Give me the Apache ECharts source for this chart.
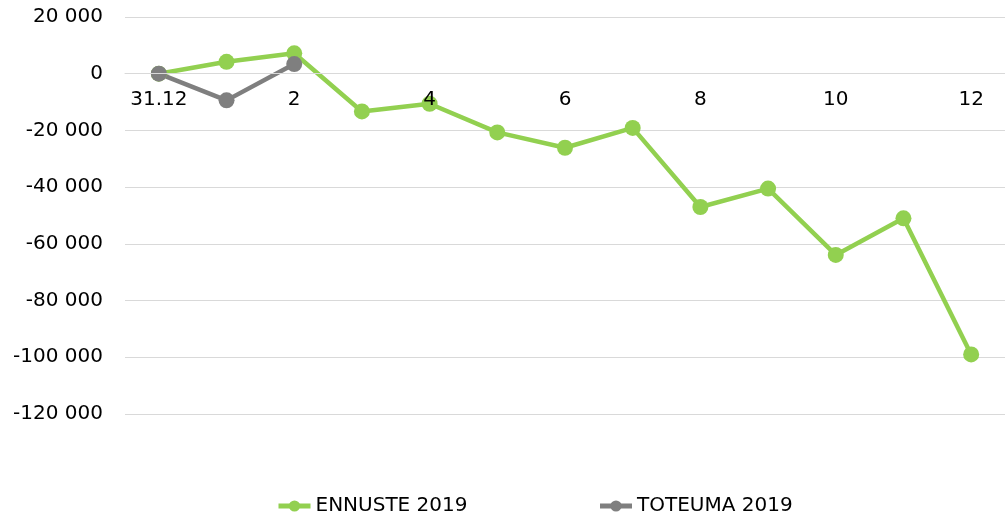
<!DOCTYPE html>
<html>
<head>
<meta charset="utf-8">
<script src="https://cdn.jsdelivr.net/npm/echarts@6/dist/echarts.min.js"></script>
<style>
html, body { margin: 0; padding: 0; background: #fff; }
#main { width: 1005px; height: 514px; }
</style>
</head>
<body>
<div id="main"></div>
<script>
var months = ['31.12', '1', '2', '3', '4', '5', '6', '7', '8', '9', '10', '11', '12']
var ennuste = [0, 4200, 7200, -13300, -10600, -20700, -26100, -19100, -47000, -40500, -63900, -51000, -99000]
var toteuma = [0, -9400, 3400]

var FONT = 'DejaVu Sans'

function spaced(v) {
  // 20000 -> "20 000"
  return String(v).replace(/\B(?=(\d{3})+(?!\d))/g, ' ')
}

var myChart = echarts.init(document.getElementById('main'))

var option = {
  animation: false,
  textStyle: { fontFamily: FONT },
  grid: {
    left: 125,
    top: 17,
    width: 888,
    height: 397
  },
  legend: {
    left: 271,
    top: 491,
    itemGap: 130,
    itemWidth: 32,
    itemHeight: 14,
    lineStyle: { width: 5 },
    textStyle: { fontSize: 20, color: '#000', fontFamily: FONT },
    data: ['ENNUSTE 2019', 'TOTEUMA 2019']
  },
  xAxis: {
    type: 'category',
    data: months,
    boundaryGap: true,
    position: 'bottom',
    // put the axis on the zero line (grid bottom is -120 000, 6 steps down)
    offset: -341,
    z: 5, // labels drawn over the lines like in the original
    axisLine: { onZero: false, lineStyle: { color: '#d9d9d9', width: 1 } },
    axisTick: { show: false },
    axisLabel: {
      interval: 1,
      margin: 17,
      fontSize: 20,
      color: '#000',
      fontFamily: FONT
    },
    splitLine: { show: false }
  },
  yAxis: {
    type: 'value',
    min: -120000,
    max: 20000,
    interval: 20000,
    axisLine: { show: false },
    axisTick: { show: false },
    axisLabel: {
      margin: 22,
      fontSize: 20,
      color: '#000',
      fontFamily: FONT,
      formatter: spaced
    },
    splitLine: { lineStyle: { color: '#d9d9d9', width: 1 } }
  },
  series: [
    {
      name: 'ENNUSTE 2019',
      type: 'line',
      data: ennuste,
      symbol: 'circle',
      symbolSize: 16,
      lineStyle: { color: '#92d050', width: 4.5 },
      itemStyle: { color: '#92d050' }
    },
    {
      name: 'TOTEUMA 2019',
      type: 'line',
      data: toteuma,
      symbol: 'circle',
      symbolSize: 16,
      lineStyle: { color: '#7f7f7f', width: 4.5 },
      itemStyle: { color: '#7f7f7f' }
    }
  ]
}

myChart.setOption(option)
</script>
</body>
</html>
